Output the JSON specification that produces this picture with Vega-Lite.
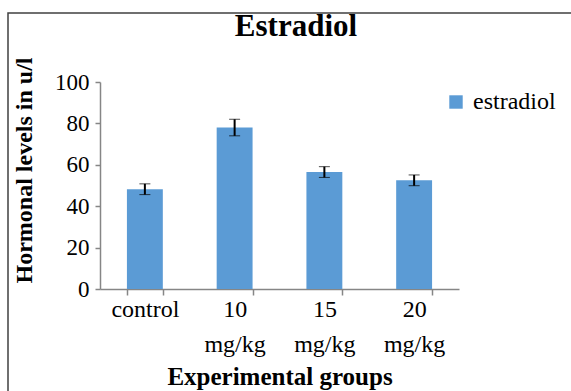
{
  "$schema": "https://vega.github.io/schema/vega-lite/v6.json",
  "autosize": "none",
  "padding": {"left": 8, "top": 13, "right": 0, "bottom": 0},
  "width": 570,
  "height": 385,
  "background": "#ffffff",
  "config": {
    "view": {"stroke": "#404040", "strokeWidth": 1.5},
    "font": "Liberation Serif"
  },
  "title": {
    "text": "Estradiol",
    "font": "Liberation Serif",
    "fontSize": 31,
    "fontWeight": "bold",
    "color": "#000000",
    "anchor": "middle",
    "frame": "group",
    "offset": -30,
    "dx": 3
  },
  "data": {
    "values": [
      {"group": "control", "series": "estradiol", "value": 48.2, "err": 2.6},
      {"group": "10 mg/kg", "series": "estradiol", "value": 78.0, "err": 4.0},
      {"group": "15 mg/kg", "series": "estradiol", "value": 56.5, "err": 2.6},
      {"group": "20 mg/kg", "series": "estradiol", "value": 52.5, "err": 2.6}
    ]
  },
  "encoding": {
    "x": {
      "field": "group",
      "type": "nominal",
      "sort": null,
      "scale": {"range": [92, 451], "paddingInner": 0.6, "paddingOuter": 0.3},
      "axis": {
        "title": "Experimental groups",
        "titleFont": "Liberation Serif",
        "titleFontSize": 25,
        "titleFontWeight": "bold",
        "titleColor": "#000000",
        "titlePadding": 8,
        "labelAngle": 0,
        "labelExpr": "split(datum.label, ' ')",
        "labelFont": "Liberation Serif",
        "labelFontSize": 24,
        "labelColor": "#000000",
        "labelLineHeight": 35,
        "labelPadding": 2,
        "tickBand": "extent",
        "tickSize": 6,
        "tickColor": "#868686",
        "domainColor": "#868686",
        "domainWidth": 1.5,
        "tickWidth": 1.5,
        "offset": -109
      }
    }
  },
  "layer": [
    {
      "mark": {"type": "bar"},
      "encoding": {
        "y": {
          "field": "value",
          "type": "quantitative",
          "title": "Hormonal levels in u/l",
          "scale": {"domain": [0, 100], "range": [276, 69], "nice": false},
          "axis": {
            "titleFont": "Liberation Serif",
            "titleFontSize": 24,
            "titleFontWeight": "bold",
            "titleColor": "#000000",
            "titlePadding": 18,
            "titleY": 157,
            "values": [0, 20, 40, 60, 80, 100],
            "labelFont": "Liberation Serif",
            "labelFontSize": 23,
            "labelColor": "#000000",
            "labelPadding": 6,
            "tickSize": 5,
            "tickColor": "#868686",
            "tickWidth": 1.5,
            "domainColor": "#868686",
            "domainWidth": 1.5,
            "grid": false,
            "offset": -92
          }
        },
        "color": {
          "field": "series",
          "type": "nominal",
          "scale": {"range": ["#5B9BD5"]},
          "legend": {
            "title": null,
            "orient": "none",
            "legendX": 436,
            "legendY": 77,
            "symbolType": "square",
            "symbolSize": 180,
            "symbolStrokeWidth": 0,
            "labelFont": "Liberation Serif",
            "labelFontSize": 24,
            "labelColor": "#000000",
            "labelOffset": 5
          }
        }
      }
    },
    {
      "mark": {
        "type": "errorbar",
        "ticks": {"size": 11, "color": "#000000", "strokeWidth": 2},
        "rule": {"color": "#000000", "strokeWidth": 2}
      },
      "encoding": {
        "y": {"field": "value", "type": "quantitative", "title": "Hormonal levels in u/l"},
        "yError": {"field": "err"}
      }
    }
  ]
}
